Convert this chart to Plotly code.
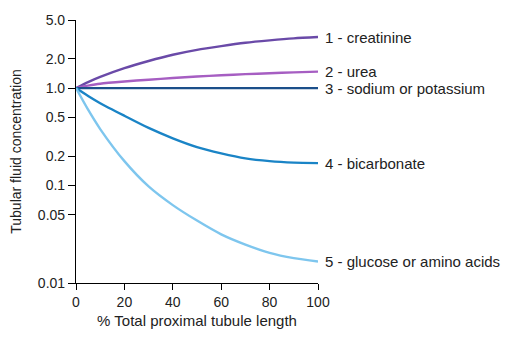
import math
import plotly.graph_objects as go

# Position along the proximal tubule (% of total length)
length_pct = [0, 5, 10, 20, 30, 40, 50, 60, 70, 80, 90, 100]

# Tubular fluid / plasma concentration ratio for each solute
creatinine = [1.0, 1.153, 1.303, 1.603, 1.897, 2.2, 2.47, 2.70, 2.92, 3.09, 3.24, 3.34]
urea = [1.0, 1.06, 1.11, 1.17, 1.22, 1.27, 1.315, 1.355, 1.39, 1.42, 1.45, 1.475]
sodium_potassium = [1.0, 1.0, 1.0, 1.0, 1.0, 1.0, 1.0, 1.0, 1.0, 1.0, 1.0, 1.0]
bicarbonate = [1.0, 0.83, 0.70, 0.52, 0.39, 0.305, 0.248, 0.214, 0.19, 0.178, 0.172, 0.17]
glucose_amino = [1.0, 0.60, 0.38, 0.178, 0.098, 0.063, 0.0437, 0.0316, 0.0248, 0.0204, 0.018, 0.0166]

series_labels = [
    "1 - creatinine",
    "2 - urea",
    "3 - sodium or potassium",
    "4 - bicarbonate",
    "5 - glucose or amino acids",
]
series_values = [creatinine, urea, sodium_potassium, bicarbonate, glucose_amino]
series_colors = ["#6a4aa8", "#a65ec2", "#1b4f8a", "#1a84c6", "#7ec6ee"]

y_tick_values = [5.0, 2.0, 1.0, 0.5, 0.2, 0.1, 0.05, 0.01]
y_tick_text = ["5.0", "2.0", "1.0", "0.5", "0.2", "0.1", "0.05", "0.01"]
x_tick_values = [0, 20, 40, 60, 80, 100]

FONT = "Liberation Sans, Arial, sans-serif"
TEXT_COLOR = "#222222"

fig = go.Figure()
for label, values, color in zip(series_labels, series_values, series_colors):
    fig.add_trace(go.Scatter(
        x=length_pct, y=values, mode="lines", name=label,
        line=dict(color=color, width=2.4, shape="spline", smoothing=0.7),
        showlegend=False, hoverinfo="skip",
    ))
    # end-of-line label; annotation y on a log axis is given in log10 units
    fig.add_annotation(
        x=length_pct[-1], y=math.log10(values[-1]), xref="x", yref="y",
        text=label, showarrow=False, xanchor="left", yanchor="middle",
        xshift=5, font=dict(family=FONT, size=15, color=TEXT_COLOR),
    )

fig.update_layout(
    width=509, height=338,
    margin=dict(l=76, r=191, t=16, b=51),
    paper_bgcolor="white", plot_bgcolor="white",
    font=dict(family=FONT, size=14, color=TEXT_COLOR),
    xaxis=dict(
        range=[0, 100], tickvals=x_tick_values, showgrid=False, zeroline=False,
        showline=True, linecolor="black", linewidth=1.2,
        ticks="outside", ticklen=6, tickcolor="black",
        tickfont=dict(size=14),
        title=dict(text="% Total proximal tubule length", standoff=6,
                   font=dict(size=15)),
    ),
    yaxis=dict(
        type="log", range=[math.log10(0.01), math.log10(5.0)],
        tickvals=y_tick_values, ticktext=y_tick_text,
        showgrid=False, zeroline=False,
        showline=True, linecolor="black", linewidth=1.2,
        ticks="outside", ticklen=7, tickcolor="black",
        tickfont=dict(size=14),
        title=dict(text="Tubular fluid concentration", standoff=12,
                   font=dict(size=14)),
    ),
)

fig.write_html("out.html")
